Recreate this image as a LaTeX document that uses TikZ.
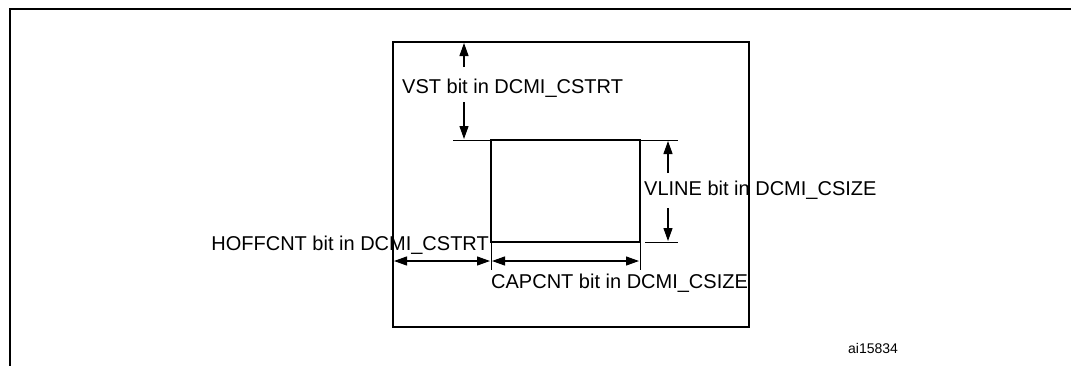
\documentclass[tikz,border=0pt]{standalone}
\usepackage{fontspec}
\setmainfont{Liberation Sans}
\usetikzlibrary{arrows.meta}
\begin{document}
\begin{tikzpicture}[x=1pt,y=-1pt,
  frameline/.style={line width=2.2pt},
  boxline/.style={line width=2pt},
  tickline/.style={line width=1pt},
  arr/.style={line width=1.2pt,-{Triangle[length=13pt,width=9pt]}},
  darr/.style={line width=1.2pt,{Triangle[length=13pt,width=9pt]}-{Triangle[length=13pt,width=9pt]}},
  lbl/.style={inner sep=0pt,font=\fontsize{20}{22}\selectfont},
  small/.style={inner sep=0pt,font=\fontsize{14}{16}\selectfont}]
\useasboundingbox (0,0) rectangle (1071,365);
% outer frame (only top and left visible)
\draw[frameline] (10,366) -- (10,9) -- (1072,9);
% image window
\coordinate (imgTL) at (393,42);
\coordinate (imgBR) at (749,327);
\draw[boxline] (imgTL) rectangle (imgBR);
% crop window
\coordinate (cropTL) at (491,140);
\coordinate (cropBR) at (640,242);
\draw[boxline] (cropTL) rectangle (cropBR);
% extension lines
\draw[tickline] (453,140) -- (678,140);
\draw[tickline] (645,242) -- (678,242);
\draw[tickline] (491,242) -- (491,270);
\draw[tickline] (640,242) -- (640,270);
% labels
\node[lbl,anchor=base west] (vst) at (402,93) {VST bit in DCMI\_CSTRT};
\node[lbl,anchor=base west] (vline) at (644,195) {VLINE bit in DCMI\_CSIZE};
\node[lbl,anchor=base east] (hoff) at (489,250) {HOFFCNT bit in DCMI\_CSTRT};
\node[lbl,anchor=base west] (capcnt) at (491,288) {CAPCNT bit in DCMI\_CSIZE};
\node[small,anchor=base west] (ref) at (848,353) {ai15834};
% VST arrows
\coordinate (vstA) at (464,67);
\coordinate (vstB) at (464,43);
\coordinate (vstC) at (464,102);
\coordinate (vstD) at (464,139);
\draw[arr] (vstA) -- (vstB);
\draw[arr] (vstC) -- (vstD);
% VLINE arrows
\coordinate (vlA) at (668,173);
\coordinate (vlB) at (668,141);
\coordinate (vlC) at (668,208);
\coordinate (vlD) at (668,241);
\draw[arr] (vlA) -- (vlB);
\draw[arr] (vlC) -- (vlD);
% horizontal dimension arrows
\coordinate (hA) at (394,261);
\coordinate (hB) at (490,261);
\coordinate (cA) at (492,261);
\coordinate (cB) at (639,261);
\draw[darr] (hA) -- (hB);
\draw[darr] (cA) -- (cB);
\end{tikzpicture}
\end{document}
